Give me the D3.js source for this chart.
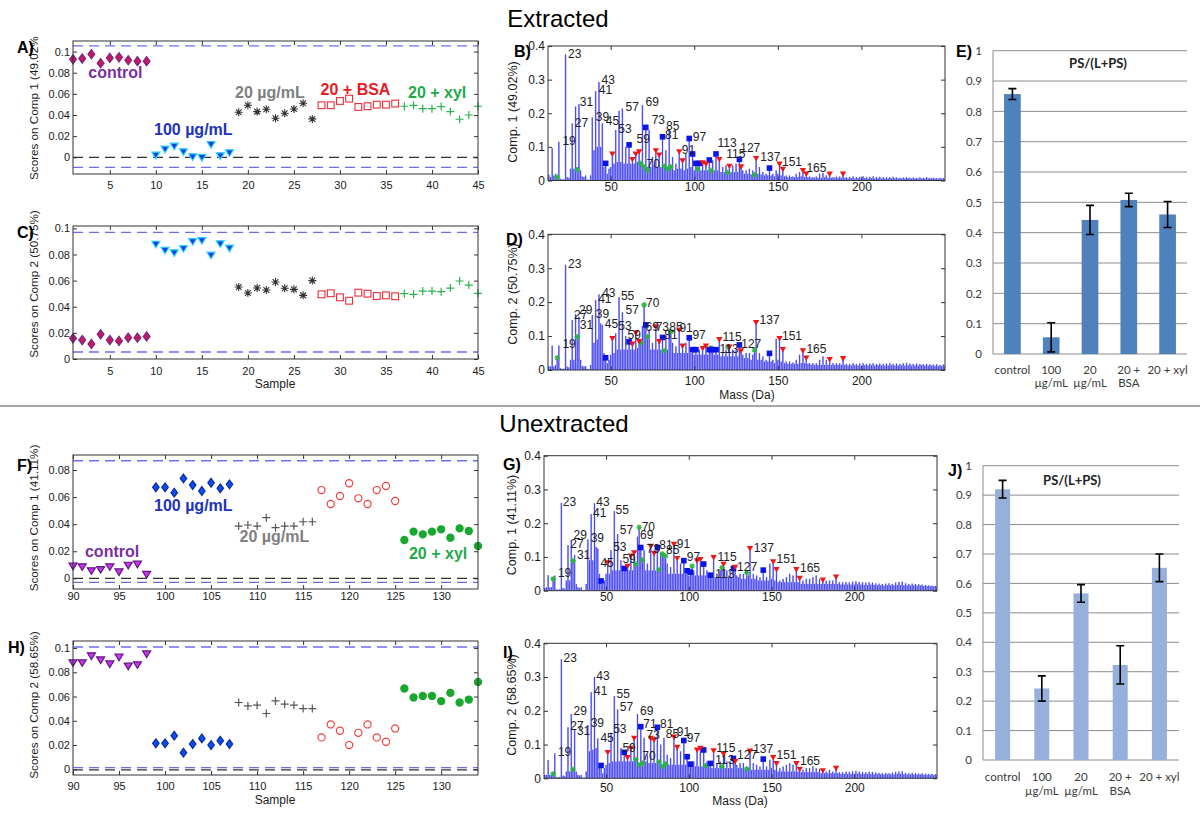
<!DOCTYPE html>
<html><head><meta charset="utf-8">
<script src="https://cdn.jsdelivr.net/npm/d3@7"></script>
<style>body{margin:0;background:#fff;} svg{display:block;font-family:"Liberation Sans",Arial,sans-serif;}</style>
</head><body>
<script>
// ---------------- DATA ----------------
// Scores (extracted, samples 1..45)
const A_control=[0.0927,0.0934,0.0975,0.089,0.094,0.0946,0.0918,0.0909,0.0909];
const A_100=[0.0022,0.0079,0.0107,0.0054,0.0006,0.0,0.0123,0.0016,0.0044];
const A_20=[0.0426,0.0492,0.0432,0.0454,0.0369,0.0416,0.0457,0.0511,0.0363];
const A_BSA=[0.0492,0.0492,0.0533,0.0555,0.0476,0.0483,0.0498,0.0498,0.0508];
const A_xyl=[0.0483,0.0492,0.046,0.046,0.048,0.0432,0.036,0.04,0.0483];
const C_control=[0.0158,0.0145,0.0115,0.0189,0.0145,0.0138,0.0163,0.0163,0.0173];
const C_100=[0.088,0.0834,0.0814,0.0847,0.090,0.0908,0.0796,0.0883,0.085];
const C_20=[0.0551,0.0505,0.0543,0.0528,0.0589,0.0541,0.0533,0.0487,0.060];
const C_BSA=[0.0495,0.0503,0.0472,0.0446,0.0508,0.05,0.0482,0.0487,0.048];
const C_xyl=[0.05,0.0495,0.052,0.052,0.0515,0.0543,0.0597,0.0566,0.0503];
// Scores (unextracted, samples 90..134)
const F_control=[0.0091,0.0086,0.0057,0.0066,0.0086,0.0049,0.0098,0.0106,0.003];
const F_100=[0.0672,0.0672,0.0633,0.0738,0.0689,0.0645,0.0706,0.0665,0.0694];
const F_20=[0.0386,0.0394,0.0386,0.0448,0.0374,0.0386,0.0386,0.0418,0.0418];
const F_BSA=[0.0652,0.0549,0.0608,0.0702,0.0591,0.0549,0.0652,0.0682,0.0571];
const F_xyl=[0.0283,0.0345,0.0325,0.0345,0.0362,0.030,0.0369,0.035,0.0239];
const H_control=[0.088,0.088,0.0937,0.0904,0.0871,0.0926,0.0852,0.0863,0.0953];
const H_100=[0.0214,0.0214,0.0277,0.0137,0.0208,0.0255,0.02,0.0236,0.0208];
const H_20=[0.0551,0.0523,0.0529,0.046,0.0564,0.0537,0.0529,0.0501,0.0501];
const H_BSA=[0.0263,0.037,0.0318,0.02,0.0301,0.037,0.0263,0.0227,0.0337];
const H_xyl=[0.0666,0.0592,0.0605,0.0605,0.0562,0.063,0.0551,0.0575,0.072];
const groupStartsExt=[1,10,19,28,37];
const groupStartsUnext=[90,99,108,117,126];
// limits (dashed lines)
const A_limits=[0.1054,-0.0095], A_zero=0;
const C_limits=[0.0969,0.0054];
const F_limits=[0.0869,-0.003], F_zero=0;
const H_limits=[0.1008,0.0014], H_zero=-0.0005;

// Loadings spectra, masses 13..250
const massStart=13;
const B_spec=[
.017,.010,.096,.015,.020,.010,.115,.005,.003,.004,
.375,.010,.008,.035,.170,.035,.220,.040,.227,.030,
.012,.010,.015,.003,.002,.015,.188,.090,.266,.100,
.293,.100,.170,.040,.051,.020,.035,.040,.079,.050,
.150,.055,.207,.055,.214,.050,.100,.050,.106,.050,
.063,.050,.079,.055,.086,.051,.224,.041,.158,.040,
.150,.040,.070,.045,.089,.040,.076,.040,.130,.043,
.090,.034,.150,.041,.070,.030,.050,.035,.086,.035,
.059,.030,.080,.035,.125,.040,.079,.030,.051,.034,
.051,.030,.053,.030,.049,.030,.061,.030,.060,.030,
.079,.030,.063,.025,.040,.025,.045,.024,.043,.025,
.045,.025,.050,.025,.063,.041,.030,.020,.030,.020,
.035,.018,.030,.017,.066,.020,.040,.018,.025,.015,
.020,.015,.037,.015,.020,.012,.030,.020,.049,.015,
.034,.012,.015,.010,.015,.010,.012,.010,.020,.010,
.025,.012,.030,.010,.020,.010,.012,.008,.010,.008,
.012,.008,.020,.008,.022,.010,.015,.008,.020,.008,
.010,.008,.012,.008,.012,.008,.020,.008,.010,.006,
.011,.007,.012,.006,.010,.007,.011,.006,.012,.007,
.010,.006,.011,.007,.012,.006,.010,.007,.011,.006,
.010,.006,.009,.006,.010,.006,.011,.007,.009,.006,
.008,.006,.009,.006,.010,.007,.008,.006,.009,.006,
.008,.006,.009,.006,.008,.006,.010,.006,.008,.006,
.008,.006,.007,.005,.008,.006,.007,.005];
const D_spec=[
.012,.010,.072,.010,.015,.036,.072,.005,.003,.004,
.310,.010,.008,.030,.147,.030,.165,.098,.157,.030,
.012,.010,.012,.003,.002,.015,.162,.080,.206,.090,
.223,.137,.133,.050,.036,.020,.030,.045,.093,.050,
.108,.060,.214,.060,.170,.060,.100,.060,.083,.060,
.077,.060,.110,.065,.084,.080,.130,.192,.133,.098,
.120,.060,.080,.060,.128,.060,.084,.060,.096,.057,
.100,.060,.120,.113,.080,.050,.070,.050,.118,.050,
.071,.050,.080,.050,.095,.050,.060,.045,.060,.045,
.060,.045,.064,.045,.071,.045,.060,.065,.060,.045,
.060,.045,.090,.040,.050,.040,.060,.040,.068,.040,
.060,.040,.060,.040,.074,.057,.045,.035,.050,.035,
.050,.030,.045,.059,.140,.030,.050,.030,.040,.025,
.030,.025,.049,.025,.030,.020,.092,.030,.093,.025,
.061,.020,.025,.018,.025,.018,.022,.018,.030,.018,
.045,.020,.057,.020,.036,.018,.020,.015,.020,.015,
.020,.015,.030,.015,.040,.015,.030,.015,.031,.015,
.020,.015,.020,.015,.020,.015,.034,.015,.018,.013,
.018,.013,.020,.014,.018,.013,.019,.013,.020,.014,
.018,.013,.019,.014,.020,.013,.018,.014,.019,.013,
.018,.013,.019,.013,.020,.014,.018,.013,.019,.013,
.018,.014,.020,.013,.021,.014,.019,.013,.018,.013,
.019,.013,.018,.014,.017,.013,.018,.013,.017,.013,
.016,.012,.017,.012,.015,.012,.016,.012];
const G_spec=[
.008,.010,.046,.010,.010,.035,.045,.004,.003,.004,
.260,.008,.006,.030,.135,.030,.150,.089,.106,.020,
.010,.008,.010,.002,.002,.020,.152,.090,.227,.090,
.259,.130,.125,.050,.029,.020,.030,.050,.083,.050,
.120,.060,.236,.060,.168,.060,.090,.060,.066,.060,
.073,.060,.103,.060,.113,.079,.160,.188,.128,.091,
.120,.060,.080,.060,.132,.060,.111,.060,.128,.063,
.110,.109,.110,.103,.080,.050,.070,.050,.138,.050,
.096,.050,.080,.050,.089,.050,.059,.045,.055,.073,
.060,.045,.089,.045,.093,.045,.079,.045,.060,.040,
.046,.040,.099,.040,.050,.040,.060,.068,.079,.040,
.060,.040,.060,.040,.066,.070,.045,.040,.050,.035,
.050,.035,.054,.045,.125,.035,.050,.035,.045,.030,
.040,.030,.061,.030,.040,.030,.080,.035,.086,.030,
.063,.025,.030,.025,.035,.025,.040,.025,.050,.025,
.045,.025,.063,.025,.037,.020,.030,.020,.035,.020,
.035,.020,.040,.020,.045,.020,.035,.020,.032,.020,
.030,.020,.030,.020,.030,.020,.041,.020,.025,.018,
.025,.018,.026,.018,.025,.018,.027,.018,.028,.019,
.026,.018,.025,.017,.024,.017,.025,.018,.024,.017,
.022,.016,.021,.016,.020,.015,.021,.016,.022,.016,
.020,.016,.024,.017,.026,.017,.027,.016,.022,.016,
.020,.015,.021,.016,.020,.015,.019,.015,.018,.014,
.017,.014,.016,.013,.015,.013,.014,.012];
const I_spec=[
.010,.010,.054,.010,.010,.013,.074,.004,.003,.004,
.353,.008,.006,.020,.151,.020,.190,.027,.143,.020,
.010,.008,.010,.002,.002,.020,.158,.080,.255,.085,
.300,.090,.118,.040,.038,.015,.030,.040,.077,.045,
.135,.050,.244,.050,.204,.050,.090,.050,.077,.050,
.062,.050,.089,.050,.119,.056,.190,.040,.153,.045,
.120,.050,.070,.045,.119,.045,.114,.045,.151,.049,
.100,.035,.120,.042,.070,.040,.060,.040,.123,.040,
.092,.040,.080,.040,.112,.040,.064,.035,.042,.035,
.050,.035,.084,.035,.089,.035,.084,.037,.050,.035,
.044,.030,.082,.030,.045,.030,.050,.035,.072,.030,
.050,.030,.050,.030,.059,.050,.040,.030,.045,.030,
.045,.025,.028,.030,.081,.025,.045,.025,.040,.025,
.035,.025,.057,.025,.035,.025,.055,.030,.062,.025,
.044,.020,.030,.020,.035,.020,.040,.020,.045,.020,
.040,.020,.044,.020,.027,.018,.025,.018,.030,.018,
.030,.018,.035,.018,.030,.018,.028,.015,.023,.015,
.020,.015,.025,.015,.020,.015,.030,.015,.018,.013,
.018,.013,.020,.013,.019,.013,.021,.013,.022,.014,
.020,.013,.019,.013,.018,.013,.020,.013,.019,.012,
.017,.012,.016,.012,.015,.011,.016,.012,.015,.011,
.017,.012,.019,.013,.020,.013,.021,.012,.016,.011,
.015,.011,.016,.011,.015,.011,.014,.011,.015,.010,
.014,.010,.013,.010,.013,.010,.012,.010];

// markers [mass, value]
const B_sq=[[47,.051],[61,.106],[71,.158],[81,.130],[97,.125],[99,.079],[101,.051],[103,.051],[109,.061],[113,.079],[127,.063],[145,.037]];
const B_tri=[[51,.079],[63,.063],[65,.079],[67,.086],[77,.089],[79,.076],[91,.086],[93,.059],[105,.053],[107,.049],[115,.063],[121,.043],[128,.041],[137,.066],[151,.049],[153,.034],[165,.030],[167,.020],[181,.020],[189,.020]];
const B_ast=[[18,.010],[30,.032],[68,.051],[70,.041],[72,.030],[82,.043],[84,.034],[86,.041],[102,.034],[110,.030],[120,.024],[136,.017]];
const D_sq=[[47,.036],[61,.083],[71,.133],[81,.096],[97,.095],[99,.060],[101,.060],[109,.060],[111,.060],[113,.060],[127,.074],[145,.049]];
const D_tri=[[51,.093],[63,.077],[65,.110],[67,.084],[77,.128],[79,.084],[91,.118],[93,.071],[105,.064],[107,.071],[115,.090],[121,.068],[128,.057],[137,.140],[151,.093],[153,.061],[165,.057],[167,.036],[181,.031],[189,.034]];
const D_ast=[[18,.036],[30,.098],[68,.080],[70,.192],[72,.098],[82,.057],[86,.113],[110,.065],[120,.068],[136,.059]];
const G_sq=[[47,.029],[61,.066],[71,.128],[81,.128],[97,.089],[99,.059],[101,.055],[109,.079],[113,.046],[127,.066],[145,.061]];
const G_tri=[[51,.083],[63,.073],[65,.103],[67,.113],[77,.132],[79,.111],[91,.138],[93,.096],[105,.089],[107,.093],[115,.099],[121,.079],[128,.070],[137,.125],[151,.086],[153,.063],[165,.063],[167,.037],[181,.032],[189,.041]];
const G_ast=[[18,.035],[30,.089],[68,.079],[70,.188],[72,.091],[82,.063],[84,.109],[86,.103],[102,.073],[120,.068],[135,.054]];
const I_sq=[[47,.038],[61,.077],[71,.153],[81,.151],[97,.112],[99,.064],[101,.042],[109,.084],[113,.044],[127,.059],[145,.057]];
const I_tri=[[51,.077],[63,.062],[65,.089],[67,.119],[77,.119],[79,.114],[91,.123],[93,.092],[105,.084],[107,.089],[115,.082],[121,.072],[128,.050],[137,.081],[151,.062],[153,.044],[165,.044],[167,.027],[181,.023],[189,.030]];
const I_ast=[[18,.013],[30,.027],[68,.056],[70,.040],[72,.045],[82,.049],[84,.035],[86,.042],[110,.037],[120,.035],[135,.028]];

// peak labels [text, mass, value]
const B_lab=[["23",24.5,.364],["19",21.1,.106],["27",28.5,.16],["31",31.5,.221],["39",41.1,.178],["41",42.9,.257],["43",44.5,.286],["45",47.1,.165],["53",54.5,.142],["57",58.9,.206],["59",65.5,.113],["69",70.9,.221],["73",74.5,.168],["85",83.1,.15],["81",82.5,.122],["91",92.5,.079],["97",99.1,.118],["70",71.5,.037],["113",113.9,.10],["115",119.1,.066],["127",127.5,.086],["137",139.5,.059],["151",152.5,.043],["165",167.1,.024]];
const D_lab=[["23",24.5,.30],["19",21.1,.064],["27",28.1,.149],["29",31.1,.165],["31",31.5,.12],["39",41.1,.152],["41",42.5,.197],["43",44.9,.216],["45",46.5,.123],["53",54.5,.118],["55",56.1,.206],["57",58.9,.165],["59",60.1,.09],["70",71.1,.187],["69",70.9,.116],["73",76.9,.116],["85",85.1,.116],["91",91.1,.113],["81",82.1,.09],["97",98.9,.09],["115",116.9,.086],["113",115.1,.051],["127",128.1,.064],["137",139.1,.136],["151",152.5,.088],["165",167.1,.049]];
const G_lab=[["19",20.9,.04],["23",23.9,.251],["27",28.4,.128],["29",30.4,.152],["31",32.4,.093],["39",40.7,.145],["41",42.1,.217],["43",44.1,.252],["45",46.6,.069],["53",54.3,.119],["55",55.7,.227],["57",58.3,.167],["59",59.9,.083],["70",71.5,.178],["69",70.5,.152],["73",74.5,.113],["81",82.2,.125],["85",86.3,.109],["91",92.7,.128],["97",98.8,.089],["115",117.4,.089],["113",116,.037],["127",129.2,.059],["137",139.3,.116],["151",153,.083],["165",167.2,.056]];
const I_lab=[["19",20.9,.066],["23",24.3,.346],["27",28.4,.143],["29",30.4,.188],["31",32.4,.128],["39",40.7,.153],["41",42.7,.247],["43",44.1,.291],["45",46.6,.109],["53",54.3,.133],["55",56.3,.237],["57",58.3,.198],["59",59.9,.079],["69",70.5,.188],["71",72.5,.148],["73",74.5,.116],["70",71.9,.054],["81",82.6,.148],["85",86.1,.119],["91",92.7,.125],["97",98.8,.109],["115",116.6,.079],["113",116,.042],["127",129.2,.056],["137",138.9,.076],["151",153,.056],["165",167.2,.04]];

// Bar charts PS/(L+PS)
const barCats=["control","100 µg/mL","20 µg/mL","20 + BSA","20 + xyl"];
const barCatLines=[["control"],["100","µg/mL"],["20","µg/mL"],["20 +","BSA"],["20 + xyl"]];
const E_vals=[0.857,0.055,0.442,0.508,0.46];
const E_err=[0.018,0.048,0.048,0.022,0.043];
const J_vals=[0.92,0.243,0.566,0.323,0.653];
const J_err=[0.03,0.043,0.03,0.065,0.047];
const barTicks=[0,0.1,0.2,0.3,0.4,0.5,0.6,0.7,0.8,0.9,1];

const scoreTicksA=[0,0.02,0.04,0.06,0.08,0.1];
const scoreTicksF=[0,0.02,0.04,0.06,0.08];
const sampleTicksExt=[5,10,15,20,25,30,35,40,45];
const sampleTicksUnext=[90,95,100,105,110,115,120,125,130];
const specXTicks=[50,100,150,200];
const specYTicks=[0,0.1,0.2,0.3,0.4];

// ---------------- DRAW ----------------
const svg=d3.select("body").append("svg").attr("width",1200).attr("height",823);
svg.append("rect").attr("width",1200).attr("height",823).attr("fill","#fff");
let clipId=0;

function marker(g,shape,x,y,fill,stroke,s){
  s=s||4;
  if(shape==="diamond"){
    g.append("path").attr("d",`M${x},${y-s*1.15}L${x+s*0.85},${y}L${x},${y+s*1.15}L${x-s*0.85},${y}Z`).attr("fill",fill).attr("stroke",stroke).attr("stroke-width",1.2);
  } else if(shape==="tridown"){
    g.append("path").attr("d",`M${x-s},${y-s*0.7}L${x+s},${y-s*0.7}L${x},${y+s*0.95}Z`).attr("fill",fill).attr("stroke",stroke).attr("stroke-width",1.2);
  } else if(shape==="square"){
    g.append("rect").attr("x",x-s*0.85).attr("y",y-s*0.85).attr("width",s*1.7).attr("height",s*1.7).attr("fill",fill).attr("stroke",stroke).attr("stroke-width",1.1);
  } else if(shape==="plus"){
    g.append("path").attr("d",`M${x-s},${y}H${x+s}M${x},${y-s}V${y+s}`).attr("stroke",stroke).attr("stroke-width",1.2).attr("fill","none");
  } else if(shape==="asterisk"){
    const d=s*0.72;
    g.append("path").attr("d",`M${x-s},${y}H${x+s}M${x},${y-s}V${y+s}M${x-d},${y-d}L${x+d},${y+d}M${x-d},${y+d}L${x+d},${y-d}`).attr("stroke",stroke).attr("stroke-width",1.1).attr("fill","none");
  } else if(shape==="circle"){
    g.append("circle").attr("cx",x).attr("cy",y).attr("r",s*0.85).attr("fill",fill).attr("stroke",stroke).attr("stroke-width",1.2);
  }
}

function matBox(g,p,x,y,xTicks,yTicks,fs,padX,yFmt){
  const tl=4;
  const bx=g.append("g").attr("transform",`translate(0,${p.b})`).call(d3.axisBottom(x).tickValues(xTicks).tickSize(-tl).tickPadding(padX).tickFormat(d=>String(d)));
  const tx=g.append("g").attr("transform",`translate(0,${p.t})`).call(d3.axisTop(x).tickValues(xTicks).tickSize(-tl).tickFormat(""));
  const ly=g.append("g").attr("transform",`translate(${p.l},0)`).call(d3.axisLeft(y).tickValues(yTicks).tickSize(-tl).tickPadding(3).tickFormat(yFmt));
  const ry=g.append("g").attr("transform",`translate(${p.r},0)`).call(d3.axisRight(y).tickValues(yTicks).tickSize(-tl).tickFormat(""));
  [bx,tx,ly,ry].forEach(a=>{a.select(".domain").remove();a.selectAll("line").attr("stroke","#333");
    a.selectAll("text").attr("font-size",fs).attr("font-family",'"Liberation Sans",Arial,sans-serif').attr("fill","#1a1a1a");});
  g.append("rect").attr("x",p.l).attr("y",p.t).attr("width",p.r-p.l).attr("height",p.b-p.t).attr("fill","none").attr("stroke","#333").attr("stroke-width",1);
}

function yLabel(text,x,y,anchor,fs){
  svg.append("text").attr("transform",`translate(${x},${y}) rotate(-90)`).attr("dy","0.35em").attr("text-anchor",anchor).attr("font-size",fs).attr("fill","#1a1a1a").text(text);
}
function letter(t,x,y){svg.append("text").attr("x",x).attr("y",y).attr("font-size",16).attr("font-weight","bold").attr("fill","#000").text(t);}

const groupStyleExt=[
  {shape:"diamond",fill:"#d3145a",stroke:"#6e2a8e",s:4},
  {shape:"tridown",fill:"#0f3fdc",stroke:"#2ad0ff",s:4},
  {shape:"asterisk",fill:"none",stroke:"#333",s:4},
  {shape:"square",fill:"none",stroke:"#ee2b36",s:4},
  {shape:"plus",fill:"none",stroke:"#2bb24a",s:4}];
const groupStyleUnext=[
  {shape:"tridown",fill:"#cc33ee",stroke:"#5e1a7e",s:4},
  {shape:"diamond",fill:"#0a50f0",stroke:"#0a2aa0",s:3.8},
  {shape:"plus",fill:"none",stroke:"#555",s:4},
  {shape:"circle",fill:"none",stroke:"#f0403c",s:4.2},
  {shape:"circle",fill:"#18a82e",stroke:"#18a82e",s:4.2}];

function scatterPanel(p){
  const g=svg.append("g");
  const x=d3.scaleLinear().domain(p.xd).range([p.l,p.r]);
  const y=d3.scaleLinear().domain(p.yd).range([p.b,p.t]);
  const id="clip"+(clipId++);
  svg.append("clipPath").attr("id",id).append("rect").attr("x",p.l-6).attr("y",p.t).attr("width",p.r-p.l+12).attr("height",p.b-p.t);
  const dg=g.append("g").attr("clip-path",`url(#${id})`);
  p.limits.forEach(v=>dg.append("line").attr("x1",p.l).attr("x2",p.r).attr("y1",y(v)).attr("y2",y(v)).attr("stroke","#6c6cf0").attr("stroke-width",1.4).attr("stroke-dasharray","10,6"));
  if(p.zero!==undefined) dg.append("line").attr("x1",p.l).attr("x2",p.r).attr("y1",y(p.zero)).attr("y2",y(p.zero)).attr("stroke","#333").attr("stroke-width",1.3).attr("stroke-dasharray","10,6");
  p.groups.forEach((vals,gi)=>{const st=p.styles[gi];
    vals.forEach((v,i)=>marker(dg,st.shape,x(p.starts[gi]+i),y(v),st.fill,st.stroke,st.s));});
  p.labels.forEach(l=>g.append("text").attr("x",x(l[1])).attr("y",y(l[2])).attr("font-size",16).attr("font-weight","bold").attr("fill",l[3]).text(l[0]));
  matBox(g,p,x,y,p.xTicks,p.yTicks,11,p.padX,d=>String(d));
}

scatterPanel({l:73,r:478,t:41,b:174,xd:[1,45],yd:[-0.0158,0.110],xTicks:sampleTicksExt,yTicks:scoreTicksA,padX:7,
  limits:A_limits,zero:A_zero,groups:[A_control,A_100,A_20,A_BSA,A_xyl],starts:groupStartsExt,styles:groupStyleExt,
  labels:[["control",2.66,0.0751,"#7b2fa0"],["100 µg/mL",9.8,0.0211,"#2233bb"],["20 µg/mL",18.6,0.0562,"#7f7f7f"],["20 + BSA",27.9,0.059,"#e81c24"],["20 + xyl",37.4,0.0562,"#1faa4a"]]});
scatterPanel({l:73,r:478,t:226,b:359,xd:[1,45],yd:[0,0.1018],xTicks:sampleTicksExt,yTicks:scoreTicksA,padX:8,
  limits:C_limits,groups:[C_control,C_100,C_20,C_BSA,C_xyl],starts:groupStartsExt,styles:groupStyleExt,labels:[]});
scatterPanel({l:73,r:478,t:455,b:589,xd:[90,134],yd:[-0.0079,0.0911],xTicks:sampleTicksUnext,yTicks:scoreTicksF,padX:3,
  limits:F_limits,zero:F_zero,groups:[F_control,F_100,F_20,F_BSA,F_xyl],starts:groupStartsUnext,styles:groupStyleUnext,
  labels:[["control",91.3,0.016,"#7b2fa0"],["100 µg/mL",98.8,0.0499,"#2233bb"],["20 µg/mL",108.1,0.027,"#7f7f7f"],["20 + xyl",126.5,0.014,"#1faa4a"]]});
scatterPanel({l:73,r:478,t:641,b:775,xd:[90,134],yd:[-0.0047,0.1058],xTicks:sampleTicksUnext,yTicks:scoreTicksA,padX:7,
  limits:H_limits,zero:H_zero,groups:[H_control,H_100,H_20,H_BSA,H_xyl],starts:groupStartsUnext,styles:groupStyleUnext,labels:[]});

yLabel("Scores on Comp 1 (49.02%",34,180,"start",11.7);
yLabel("Scores on Comp 2 (50.75%)",34,284,"middle",11.7);
yLabel("Scores on Comp 1 (41.11%)",34,518,"middle",11.7);
yLabel("Scores on Comp 2 (58.65%)",34,705,"middle",11.7);
svg.append("text").attr("x",275).attr("y",388).attr("text-anchor","middle").attr("font-size",12).attr("fill","#1a1a1a").text("Sample");
svg.append("text").attr("x",275).attr("y",804).attr("text-anchor","middle").attr("font-size",12).attr("fill","#1a1a1a").text("Sample");

function specPanel(p){
  const g=svg.append("g");
  const x=d3.scaleLinear().domain([12.5,250]).range([p.l,p.r]);
  const y=d3.scaleLinear().domain([0,0.4]).range([p.b,p.t]);
  const id="clip"+(clipId++);
  svg.append("clipPath").attr("id",id).append("rect").attr("x",p.l).attr("y",p.t-10).attr("width",p.r-p.l).attr("height",p.b-p.t+10);
  const dg=g.append("g").attr("clip-path",`url(#${id})`);
  const bars=p.spec.map((v,i)=>({m:massStart+i,v}));
  const bw=(x(13)-x(12))*0.95;
  dg.selectAll("rect.bar").data(bars).join("rect").attr("x",d=>x(d.m)-bw/2).attr("width",bw)
    .attr("y",d=>y(d.v)).attr("height",d=>y(0)-y(d.v)).attr("fill","#a3a3f6");
  dg.selectAll("line.stem").data(bars).join("line").attr("x1",d=>x(d.m)).attr("x2",d=>x(d.m))
    .attr("y1",y(0)).attr("y2",d=>y(d.v)).attr("stroke","#3b3bf0").attr("stroke-width",0.9);
  p.ast.forEach(d=>marker(dg,"asterisk",x(d[0]),y(d[1]),"none","#2ab53e",2.8));
  p.sq.forEach(d=>dg.append("rect").attr("x",x(d[0])-2.8).attr("y",y(d[1])-2.8).attr("width",5.6).attr("height",5.6).attr("fill","#0a14e6"));
  p.tri.forEach(d=>dg.append("path").attr("d",`M${x(d[0])-3.2},${y(d[1])-2.4}L${x(d[0])+3.2},${y(d[1])-2.4}L${x(d[0])},${y(d[1])+3}Z`).attr("fill","#f01616"));
  p.lab.forEach(l=>g.append("text").attr("x",x(l[1])).attr("y",y(l[2])).attr("font-size",12).attr("fill","#222").text(l[0]));
  matBox(g,p,x,y,specXTicks,specYTicks,12,p.padX,d=>String(d));
}
specPanel({l:548,r:945,t:46,b:180.5,padX:2,spec:B_spec,sq:B_sq,tri:B_tri,ast:B_ast,lab:B_lab});
specPanel({l:548,r:945,t:234.3,b:370,padX:6,spec:D_spec,sq:D_sq,tri:D_tri,ast:D_ast,lab:D_lab});
specPanel({l:544,r:937,t:455.7,b:590.7,padX:2,spec:G_spec,sq:G_sq,tri:G_tri,ast:G_ast,lab:G_lab});
specPanel({l:544,r:937,t:643.3,b:778.3,padX:5,spec:I_spec,sq:I_sq,tri:I_tri,ast:I_ast,lab:I_lab});
yLabel("Comp. 1 (49.02%)",513,112,"middle",12.5);
yLabel("Comp. 2 (50.75%)",513,294,"middle",12.5);
yLabel("Comp. 1 (41.11%)",512,525,"middle",12.5);
yLabel("Comp. 2 (58.65%)",512,705,"middle",12.5);
svg.append("text").attr("x",747).attr("y",399).attr("text-anchor","middle").attr("font-size",12).attr("fill","#1a1a1a").text("Mass (Da)");
svg.append("text").attr("x",740).attr("y",805).attr("text-anchor","middle").attr("font-size",12).attr("fill","#1a1a1a").text("Mass (Da)");

function barPanel(p){
  const g=svg.append("g").attr("font-family","Lato, 'Open Sans', sans-serif");
  const x=d3.scaleBand().domain(barCats).range([p.l,p.r]).paddingInner(p.pi).paddingOuter(p.pi/2);
  const y=d3.scaleLinear().domain([0,1]).range([p.b,p.t]);
  const ax=g.append("g").attr("transform",`translate(${p.l},0)`).call(d3.axisLeft(y).tickValues(barTicks).tickSize(0).tickPadding(11).tickFormat(d=>String(d)));
  ax.select(".domain").remove();
  ax.selectAll("text").attr("font-size",11.5).attr("font-family","Lato, 'Open Sans', sans-serif").attr("fill","#3a3a3a");
  g.selectAll("line.grid").data(barTicks).join("line").attr("x1",p.l).attr("x2",p.r).attr("y1",d=>y(d)).attr("y2",d=>y(d)).attr("stroke","#8c8c8c").attr("stroke-width",1);
  g.append("line").attr("x1",p.l).attr("x2",p.l).attr("y1",p.t).attr("y2",p.b).attr("stroke","#8c8c8c");
  g.selectAll("rect.bar").data(barCats).join("rect").attr("x",d=>x(d)).attr("width",x.bandwidth()).attr("y",(d,i)=>y(p.vals[i])).attr("height",(d,i)=>y(0)-y(p.vals[i])).attr("fill",p.color);
  barCats.forEach((c,i)=>{const cx=x(c)+x.bandwidth()/2;
    const y1=y(p.vals[i]+p.err[i]), y2=y(p.vals[i]-p.err[i]);
    g.append("path").attr("d",`M${cx},${y1}V${y2}M${cx-4},${y1}H${cx+4}M${cx-4},${y2}H${cx+4}`).attr("stroke","#000").attr("stroke-width",1.6).attr("fill","none");
    barCatLines[i].forEach((t,j)=>g.append("text").attr("x",cx).attr("y",p.lab1+j*p.labGap).attr("text-anchor","middle").attr("font-size",11.5).attr("fill","#3a3a3a").text(t));
  });
  g.append("text").attr("x",p.tx).attr("y",p.ty).attr("text-anchor","middle").attr("font-size",13).attr("font-weight","bold").attr("fill","#222").text("PS/(L+PS)");
}
barPanel({l:993,r:1187,t:50.7,b:354,pi:0.57,vals:E_vals,err:E_err,color:"#4f81bd",lab1:374,labGap:13,tx:1098,ty:68});
barPanel({l:983,r:1179,t:465.7,b:760,pi:0.617,vals:J_vals,err:J_err,color:"#95b0da",lab1:781,labGap:14,tx:1072,ty:485});

// Letters and titles
letter("A)",17,53);letter("C)",17,238);letter("F)",17,471);letter("H)",8,653);
letter("B)",514,57);letter("D)",506,245);letter("G)",503,470);letter("I)",503,658);
letter("E)",956,57);letter("J)",948,476);
svg.append("text").attr("x",558).attr("y",27).attr("text-anchor","middle").attr("font-size",24).attr("fill","#000").text("Extracted");
svg.append("text").attr("x",564).attr("y",432).attr("text-anchor","middle").attr("font-size",24).attr("fill","#000").text("Unextracted");
svg.append("line").attr("x1",0).attr("x2",1200).attr("y1",406).attr("y2",406).attr("stroke","#a8a8a8").attr("stroke-width",2);
</script></body></html>
